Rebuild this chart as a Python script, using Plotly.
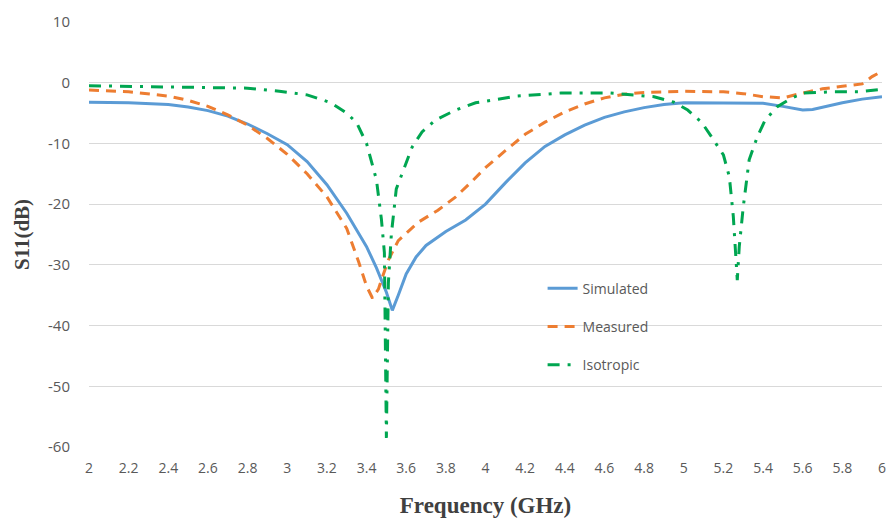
import plotly.graph_objects as go

sim_x = [2.0, 2.2, 2.4, 2.5, 2.6, 2.7, 2.8, 2.9, 3.0, 3.1, 3.2, 3.3, 3.4, 3.45, 3.5, 3.53, 3.56, 3.6, 3.65, 3.7, 3.8, 3.9, 4.0, 4.1, 4.2, 4.3, 4.4, 4.5, 4.6, 4.7, 4.8, 4.9, 5.0, 5.2, 5.4, 5.5, 5.6, 5.65, 5.7, 5.8, 5.9, 6.0]
sim_y = [-3.2, -3.3, -3.6, -4.0, -4.6, -5.5, -6.8, -8.4, -10.2, -13.0, -16.8, -21.5, -27.0, -30.5, -34.5, -37.5, -35.0, -31.5, -28.7, -26.8, -24.5, -22.6, -20.0, -16.5, -13.2, -10.5, -8.6, -7.0, -5.7, -4.8, -4.1, -3.6, -3.3, -3.3, -3.4, -3.9, -4.5, -4.4, -4.0, -3.3, -2.7, -2.3]

meas_x = [2.0, 2.2, 2.4, 2.5, 2.6, 2.7, 2.8, 2.9, 3.0, 3.1, 3.2, 3.3, 3.36, 3.4, 3.43, 3.46, 3.48, 3.51, 3.56, 3.66, 3.76, 3.85, 3.93, 4.0, 4.1, 4.2, 4.3, 4.4, 4.5, 4.6, 4.7, 4.8, 4.9, 5.0, 5.2, 5.3, 5.4, 5.5, 5.6, 5.7, 5.8, 5.9, 5.95, 6.0]
meas_y = [-1.2, -1.5, -2.2, -2.9, -3.9, -5.3, -7.0, -9.2, -11.8, -15.0, -18.8, -24.0, -29.5, -33.5, -35.5, -34.0, -32.0, -29.2, -26.0, -23.0, -21.0, -18.8, -16.3, -14.0, -11.2, -8.5, -6.5, -4.8, -3.5, -2.5, -1.9, -1.6, -1.5, -1.4, -1.5, -1.8, -2.3, -2.5, -1.7, -1.0, -0.6, -0.2, 1.0, 1.9]

iso_x = [2.0, 2.2, 2.4, 2.6, 2.8, 2.96, 3.1, 3.22, 3.3, 3.35, 3.4, 3.45, 3.475, 3.49, 3.5, 3.51, 3.525, 3.55, 3.59, 3.63, 3.68, 3.75, 3.85, 3.95, 4.05, 4.16, 4.38, 4.63, 4.85, 4.95, 5.02, 5.09, 5.15, 5.2, 5.23, 5.25, 5.27, 5.28, 5.3, 5.33, 5.37, 5.41, 5.47, 5.53, 5.6, 5.75, 5.88, 6.0]
iso_y = [-0.5, -0.6, -0.7, -0.8, -0.9, -1.4, -2.0, -3.3, -5.0, -6.6, -10.0, -16.0, -22.5, -28.0, -58.5, -33.0, -25.0, -17.5, -13.9, -10.6, -8.1, -6.1, -4.5, -3.3, -2.8, -2.2, -1.7, -1.7, -2.3, -3.2, -4.5, -6.5, -9.4, -11.9, -15.5, -22.0, -32.5, -27.0, -20.5, -12.7, -9.0, -6.2, -4.0, -2.8, -1.7, -1.5, -1.5, -1.1]

x_ticks = [2.0, 2.2, 2.4, 2.6, 2.8, 3.0, 3.2, 3.4, 3.6, 3.8, 4.0, 4.2, 4.4, 4.6, 4.8, 5.0, 5.2, 5.4, 5.6, 5.8, 6.0]
x_tick_labels = ["2", "2.2", "2.4", "2.6", "2.8", "3", "3.2", "3.4", "3.6", "3.8", "4", "4.2", "4.4", "4.6", "4.8", "5", "5.2", "5.4", "5.6", "5.8", "6"]
y_ticks = [10, 0, -10, -20, -30, -40, -50, -60]
y_tick_labels = ["10", "0", "-10", "-20", "-30", "-40", "-50", "-60"]

fig = go.Figure()
fig.add_trace(go.Scatter(x=sim_x, y=sim_y, mode="lines", name="Simulated", legendgroup="a",
                         line=dict(color="#5B9BD5", width=3)))
fig.add_trace(go.Scatter(x=meas_x, y=meas_y, mode="lines", name="Measured", legendgroup="b",
                         line=dict(color="#ED7D31", width=3, dash="10px,7px")))
fig.add_trace(go.Scatter(x=iso_x, y=iso_y, mode="lines", name="Isotropic", legendgroup="c",
                         line=dict(color="#00A651", width=3, dash="12px,8px,3px,8px")))

fig.update_layout(
    width=893, height=525,
    margin=dict(l=89, r=7, t=22, b=78),
    paper_bgcolor="white", plot_bgcolor="white",
    font=dict(family="Open Sans", color="#595959", size=14),
    legend=dict(x=0.572, y=0.41, xanchor="left", yanchor="top",
                bgcolor="rgba(0,0,0,0)", tracegroupgap=17,
                font=dict(size=14, color="#595959")),
    xaxis=dict(range=[2, 6], tickvals=x_ticks, ticktext=x_tick_labels,
               tickfont=dict(size=14),
               showgrid=False, zeroline=False, showline=False, ticks="", ticklabelstandoff=11,
               title=dict(text="Frequency (GHz)", standoff=20,
                          font=dict(family="Liberation Serif", size=23, color="#404040", weight="bold"))),
    yaxis=dict(range=[-60, 10], tickvals=y_ticks, ticktext=y_tick_labels,
               tickfont=dict(size=15),
               showgrid=True, gridcolor="#D9D9D9", gridwidth=1,
               zeroline=False, showline=False, ticks="", ticklabelstandoff=18,
               title=dict(text="S11(dB)", standoff=12,
                          font=dict(family="Liberation Serif", size=21, color="#404040", weight="bold"))),
)

fig.write_html("out.html")
